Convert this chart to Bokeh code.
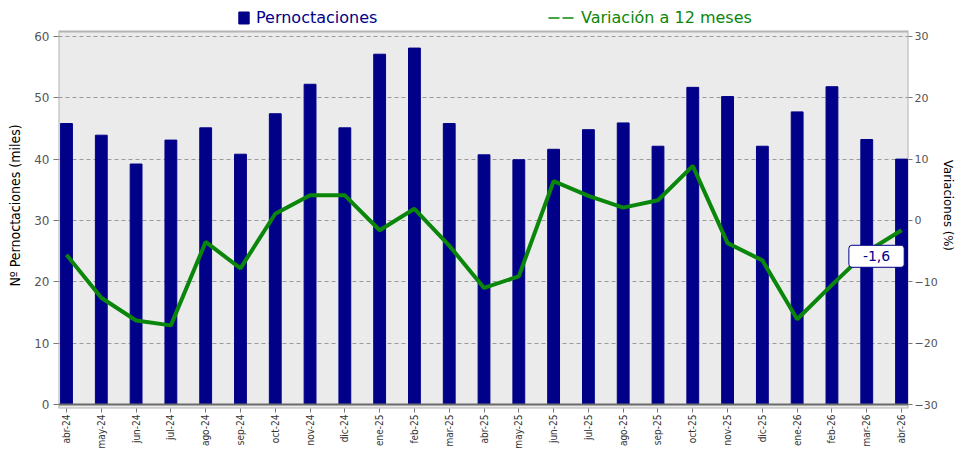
import numpy as np
from bokeh.plotting import figure
from bokeh.models import (Range1d, LinearAxis, FixedTicker, Legend, LegendItem,
                          Label, Span, BoxAnnotation, ColumnDataSource)
from bokeh.embed import file_html
from bokeh.resources import INLINE

# ---- data ----
months = ["abr-24", "may-24", "jun-24", "jul-24", "ago-24", "sep-24", "oct-24",
          "nov-24", "dic-24", "ene-25", "feb-25", "mar-25", "abr-25", "may-25",
          "jun-25", "jul-25", "ago-25", "sep-25", "oct-25", "nov-25", "dic-25",
          "ene-26", "feb-26", "mar-26", "abr-26"]
pernoctaciones = [45.8, 43.9, 39.2, 43.1, 45.1, 40.8, 47.4, 52.2, 45.1, 57.1,
                  58.1, 45.8, 40.7, 39.9, 41.6, 44.8, 45.9, 42.1, 51.7, 50.2,
                  42.1, 47.7, 51.8, 43.2, 40.0]
variacion = [-5.6, -12.6, -16.3, -17.1, -3.5, -7.8, 1.1, 4.1, 4.1, -1.6,
             1.9, -4.1, -11.0, -9.1, 6.4, 4.0, 2.1, 3.3, 8.9, -3.7,
             -6.5, -16.1, -10.5, -5.1, -1.6]
left_ticks = [0, 10, 20, 30, 40, 50, 60]
right_ticks = [-30, -20, -10, 0, 10, 20, 30]

NAVY = "#000088"
GREEN = "#0a870a"
NARROW = "'DejaVu Sans Condensed', 'Liberation Sans Narrow', sans-serif"
WIDE = "'DejaVu Sans', Verdana, sans-serif"

W, H = 958, 451
BL, BR, BT, BB = 58, 46, 2, 42
FH = H - BT - BB

# plotted area: left 0..60 (with small margins), right axis = left - 30
Y_LO, Y_BOX, Y_TOP = -0.65, 60.81, 65.53
OFF = 30

x = list(range(len(months)))
src = ColumnDataSource(dict(x=x, p=pernoctaciones, v=variacion))

p = figure(width=W, height=H, output_backend="svg", toolbar_location=None,
           x_range=Range1d(-0.23, len(months) - 1 + 0.2),
           y_range=Range1d(Y_LO, Y_TOP),
           min_border_left=BL, min_border_right=BR, min_border_top=BT,
           min_border_bottom=BB)
p.extra_y_ranges = {"var": Range1d(Y_LO - OFF, Y_TOP - OFF)}

p.background_fill_color = "white"
p.border_fill_color = "white"
p.outline_line_color = None

# grey plotting box (up to just above 60)
p.add_layout(BoxAnnotation(top=Y_BOX, fill_color="#ebebeb", fill_alpha=1,
                           line_color="#b4b4b4", line_width=2, line_alpha=1,
                           level="image"))

# grid
p.xgrid.visible = False
p.ygrid.grid_line_color = "#9a9a9a"
p.ygrid.grid_line_dash = "4 3"
p.ygrid.grid_line_width = 1

# x axis
xa = p.xaxis[0]
xa.ticker = FixedTicker(ticks=x)
xa.major_label_overrides = {i: m for i, m in enumerate(months)}
xa.major_label_orientation = np.pi / 2
xa.major_label_text_font = NARROW
xa.major_label_text_font_size = "10px"
xa.major_label_text_color = "#333333"
xa.major_label_standoff = 2
xa.axis_line_color = None
xa.major_tick_line_color = "#777777"
xa.major_tick_in = 0
xa.major_tick_out = 4
xa.minor_tick_line_color = None

# left axis
ya = p.yaxis[0]
ya.ticker = FixedTicker(ticks=left_ticks)
ya.axis_label = "Nº Pernoctaciones (miles)"
ya.axis_label_text_font = NARROW
ya.axis_label_text_font_style = "normal"
ya.axis_label_text_font_size = "14px"
ya.axis_label_text_color = "black"
ya.axis_label_standoff = 8
ya.major_label_text_font = WIDE
ya.major_label_text_font_size = "12px"
ya.major_label_text_color = "#555555"
ya.major_label_standoff = 4
ya.axis_line_color = None
ya.major_tick_line_color = "#777777"
ya.major_tick_in = 0
ya.major_tick_out = 5
ya.minor_tick_line_color = None

# right axis
ra = LinearAxis(y_range_name="var", ticker=FixedTicker(ticks=right_ticks),
                axis_label="Variaciones (%)")
ra.axis_label_text_font = NARROW
ra.axis_label_text_font_style = "normal"
ra.axis_label_text_font_size = "13px"
ra.axis_label_text_color = "black"
ra.axis_label_standoff = 0
ra.major_label_text_font = WIDE
ra.major_label_text_font_size = "11px"
ra.major_label_text_color = "#555555"
ra.major_label_standoff = 2
ra.axis_line_color = None
ra.major_tick_line_color = "#777777"
ra.major_tick_in = 0
ra.major_tick_out = 4
ra.minor_tick_line_color = None
p.add_layout(ra, "right")

# bars
bars = p.vbar(x="x", top="p", bottom=0, width=0.34, source=src,
              fill_color=NAVY, line_color=NAVY)

# zero baseline
p.add_layout(Span(location=0, dimension="width", line_color="#6a6a6a", line_width=2))

# line
p.line("x", "v", source=src, y_range_name="var", line_color=GREEN, line_width=4)

# legend proxy renderer (single NaN point, never drawn) for the thin dashed legend glyph
leg_line = p.line([np.nan], [np.nan], line_color=GREEN, line_width=1.5, line_dash="11 3")

common = dict(orientation="horizontal", padding=0, margin=0, spacing=0,
              background_fill_alpha=0, border_line_alpha=0,
              label_text_font=WIDE, label_text_font_size="16px",
              label_standoff=6, label_height=18)
LEG_Y = FH - 26
leg1 = Legend(items=[LegendItem(label="Pernoctaciones", renderers=[bars])],
              location=(179, LEG_Y), label_text_color=NAVY,
              glyph_width=13, glyph_height=15, **common)
leg2 = Legend(items=[LegendItem(label="Variación a 12 meses", renderers=[leg_line])],
              location=(490, LEG_Y), label_text_color=GREEN,
              glyph_width=27, glyph_height=15, **common)
p.add_layout(leg1, "center")
p.add_layout(leg2, "center")

# last value annotation
last_txt = f"{variacion[-1]:.1f}".replace(".", ",")
lab = Label(x=x[-1], y=variacion[-1], y_range_name="var", text=last_txt,
            x_offset=-25, y_offset=-26, text_align="center", text_baseline="middle",
            text_color=NAVY, text_font=WIDE, text_font_size="14px",
            background_fill_color="white", border_line_color=NAVY,
            border_line_width=1, padding=dict(x=14, y=6), border_radius=3)
p.add_layout(lab)

open("out.html", "w").write(file_html(p, INLINE))
